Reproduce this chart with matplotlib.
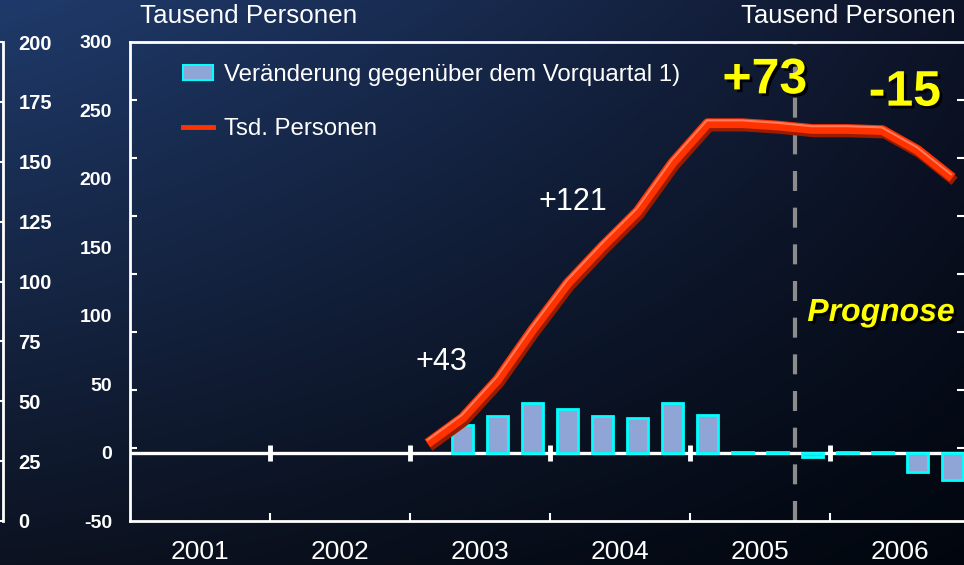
import numpy as np
import matplotlib.pyplot as plt
from matplotlib import patheffects as pe
from matplotlib.patches import Patch
from matplotlib.lines import Line2D

plt.rcParams['font.family'] = ['Liberation Sans', 'DejaVu Sans']
plt.rcParams['axes.unicode_minus'] = False

# quarters counted from 2001 Q1 = 0
years = ['2001', '2002', '2003', '2004', '2005', '2006']
bar_quarters = list(range(9, 24))          # 2003 Q2 .. 2006 Q4
bar_changes = [20, 27, 36.5, 32, 26.5, 25, 36, 27.5, 0.3, 0.3, -3, 0.3, 0.3, -14, -20]
line_quarters = list(range(8, 24))         # 2003 Q1 .. 2006 Q4
line_level = [27, 38, 54.5, 76, 96, 112, 127, 148, 165, 165, 164, 162.5, 162.5, 162, 153.5, 141.5]
year_changes = ['+43', '+121', '+73', '-15']
left_ticks = list(range(-50, 301, 50))
far_ticks = list(range(0, 201, 25))

fig = plt.figure(figsize=(9.64, 5.65), dpi=100)

# background gradient
bg = fig.add_axes([0, 0, 1, 1], zorder=-10)
yy, xx = np.mgrid[0:1:565j, 0:1:964j]
tx = xx ** 1.2
tl = np.array([31, 58, 106]); tr = np.array([14, 20, 40])
bl = np.array([12, 18, 32]); br = np.array([1, 6, 14])
img = (tl * ((1 - tx) * (1 - yy))[..., None] + tr * (tx * (1 - yy))[..., None]
       + bl * ((1 - tx) * yy)[..., None] + br * (tx * yy)[..., None]) / 255
bg.imshow(img, aspect='auto', extent=[0, 1, 0, 1])
bg.axis('off')

ax = fig.add_axes([130/964, 1 - 521/565, 834/964, 479/565])
ax.patch.set_alpha(0)
ax.set_xlim(-0.5, 23.33)
ax.set_ylim(-50, 300)

ax.bar(bar_quarters, bar_changes, width=0.6, color='#8fa5d6', edgecolor='#00ffff', linewidth=2, zorder=3)
ax.axhline(0, color='white', lw=2.4, zorder=2)
bounds = [3.5 + 4*i for i in range(5)]
ax.plot(bounds, [0]*len(bounds), ls='none', marker='|', ms=12, mew=3.5, color='white', zorder=4)
ax.axvline(18.5, color='#8c8c8c', lw=3, dashes=(4.8, 4), zorder=1)

for s in ['left', 'bottom', 'top']:
    ax.spines[s].set_color('white')
    ax.spines[s].set_linewidth(2)
ax.spines['right'].set_visible(False)

ax.set_yticks(left_ticks)
ax.tick_params(axis='y', length=0, pad=13, labelsize=14, labelcolor='white')
for t in ax.get_yticklabels():
    t.set_fontweight('bold')
ax.set_xticks([1.5 + 4*i for i in range(6)], years)
ax.set_xticks(bounds, minor=True)
ax.tick_params(axis='x', which='major', length=0, pad=14, labelsize=19, labelcolor='white')
ax.tick_params(axis='x', which='minor', direction='in', length=6, width=1.5, color='white')

# line on its own scale
ax2 = ax.twinx()
ax2.set_ylim(-6.5, 200)
for s in ax2.spines.values():
    s.set_visible(False)
ax2.set_yticks(list(range(25, 200, 25)))
ax2.tick_params(axis='y', left=True, right=True, direction='in', length=5, width=1.5,
                color='white', labelleft=False, labelright=False)
ax2.plot(line_quarters, line_level, color='#ff3300', lw=7, solid_capstyle='butt', zorder=5,
         path_effects=[pe.SimpleLineShadow(offset=(1.5, -2.5), shadow_color='#9a1c00', alpha=1),
                       pe.Normal(),
                       pe.Stroke(offset=(-0.5, 2), linewidth=1.5, foreground='#ff7a5a')])

handles = [Patch(facecolor='#8fa5d6', edgecolor='#00ffff', linewidth=1.5),
           Line2D([], [], color='#ff3300', lw=3.5)]
ax2.legend(handles, ['Veränderung gegenüber dem Vorquartal 1)', 'Tsd. Personen'],
           loc='upper left', bbox_to_anchor=(183/964, 1 - 64/565), bbox_transform=fig.transFigure,
           frameon=False, fontsize=17.3, labelcolor='white', handlelength=1.25, handleheight=0.6,
           handletextpad=0.45, labelspacing=1.35, borderpad=0, borderaxespad=0)

# annotations
ax.text(8.39, 66, year_changes[0], color='white', fontsize=22, ha='center', va='center')
ax.text(12.16, 183, year_changes[1], color='white', fontsize=22, ha='center', va='center')
shadow = [pe.withSimplePatchShadow(offset=(2, -2), shadow_rgbFace='black', alpha=0.9)]
ax.text(17.64, 272, year_changes[2], color='#ffff00', fontsize=36, fontweight='bold',
        ha='center', va='center', path_effects=shadow)
ax.text(21.64, 263, year_changes[3], color='#ffff00', fontsize=36, fontweight='bold',
        ha='center', va='center', path_effects=shadow)
ax.text(20.96, 102, 'Prognose', color='#ffff00', fontsize=23, fontweight='bold', style='italic',
        ha='center', va='center', path_effects=shadow)

# far left axis 0..200
ax3 = fig.add_axes([3/964 - 0.05, 1 - 521/565, 0.05, 479/565])
ax3.patch.set_alpha(0)
ax3.set_ylim(0, 200)
ax3.set_xticks([])
ax3.set_yticks(far_ticks)
ax3.yaxis.tick_right()
for s in ['left', 'top', 'bottom']:
    ax3.spines[s].set_visible(False)
ax3.spines['right'].set_color('white')
ax3.spines['right'].set_linewidth(2)
ax3.tick_params(axis='y', direction='in', length=4, width=1.5, color='white', pad=11,
                labelsize=14.5, labelcolor='white')
for t in ax3.get_yticklabels():
    t.set_fontweight('bold')

fig.text(140/964, 1 - 16/565, 'Tausend Personen', color='white', fontsize=18.7, va='center')
fig.text(956/964, 1 - 16/565, 'Tausend Personen', color='white', fontsize=18.5, va='center', ha='right')

fig.savefig('out.png', dpi=100)
